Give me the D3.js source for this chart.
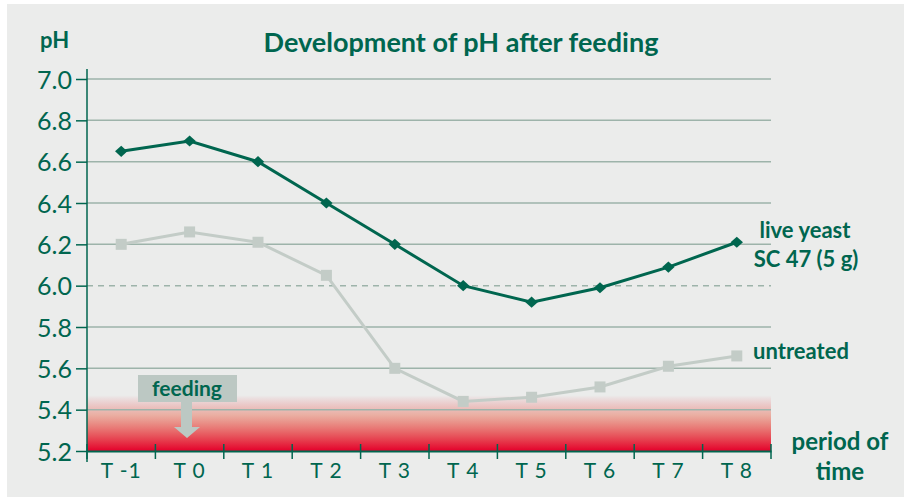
<!DOCTYPE html>
<html>
<head>
<meta charset="utf-8">
<script src="https://d3js.org/d3.v7.min.js"></script>
<style>
body { margin: 0; background: #ffffff; }
svg { display: block; }
</style>
</head>
<body>
<svg id="chart" width="904" height="497"></svg>
<script>
var periods = ['T -1', 'T 0', 'T 1', 'T 2', 'T 3', 'T 4', 'T 5', 'T 6', 'T 7', 'T 8']
var liveYeast = [6.65, 6.70, 6.60, 6.40, 6.20, 6.00, 5.92, 5.99, 6.09, 6.21]
var untreated = [6.20, 6.26, 6.21, 6.05, 5.60, 5.44, 5.46, 5.51, 5.61, 5.66]
var yTicks = [5.2, 5.4, 5.6, 5.8, 6.0, 6.2, 6.4, 6.6, 6.8, 7.0]

var green = '#00664f'
var grey = '#c3ccc7'
var font = 'Lato, "Open Sans", sans-serif'

var svg = d3.select('#chart')

// panel background
svg.append('rect')
    .attr('x', 7).attr('y', 4)
    .attr('width', 897).attr('height', 493)
    .attr('fill', '#ebeceb')

var x = d3.scaleBand().domain(periods).range([87, 771])
var y = d3.scaleLinear().domain([5.2, 7.0]).range([451, 79])

// red acid zone
var defs = svg.append('defs')
var grad = defs.append('linearGradient')
    .attr('id', 'acid').attr('x1', 0).attr('y1', 0).attr('x2', 0).attr('y2', 1)
grad.append('stop').attr('offset', '0%').attr('stop-color', '#e8001f').attr('stop-opacity', 0)
grad.append('stop').attr('offset', '35%').attr('stop-color', '#e8401f').attr('stop-opacity', 0.35)
grad.append('stop').attr('offset', '100%').attr('stop-color', '#e4002b').attr('stop-opacity', 1)

svg.append('rect')
    .attr('x', 87).attr('y', y(5.47))
    .attr('width', 771 - 87).attr('height', y(5.2) - y(5.47))
    .attr('fill', 'url(#acid)')

// gridlines
svg.selectAll('line.grid').data(yTicks.filter(function(d){ return d > 5.2 }))
    .enter().append('line')
    .attr('class', 'grid')
    .attr('x1', 87).attr('x2', 771)
    .attr('y1', function(d){ return y(d) })
    .attr('y2', function(d){ return y(d) })
    .attr('stroke', '#9db3aa')
    .attr('stroke-width', 1.5)
    .attr('stroke-dasharray', function(d){ return Math.abs(d - 6.0) < 0.01 ? '6,5' : null })

// y axis
var yAxis = d3.axisLeft(y).tickValues(yTicks).tickFormat(d3.format('.1f')).tickSize(11).tickPadding(4)
var gy = svg.append('g').attr('transform', 'translate(87,0)').call(yAxis)
gy.select('.domain').remove()
gy.selectAll('.tick line').attr('stroke', green).attr('stroke-width', 1.5)
gy.selectAll('.tick text')
    .attr('fill', green).attr('font-family', font).attr('font-size', '25px')
    .attr('dy', '0.36em')
svg.append('line')
    .attr('x1', 87).attr('x2', 87).attr('y1', 69).attr('y2', 462)
    .attr('stroke', green).attr('stroke-width', 1.5)

// x axis
var gx = svg.append('g').attr('transform', 'translate(0,451)')
    .call(d3.axisBottom(x).tickSize(0).tickPadding(12))
gx.select('.domain').attr('stroke', green).attr('stroke-width', 2)
gx.selectAll('.tick text')
    .attr('fill', green).attr('font-family', font).attr('font-size', '21px')
    .attr('letter-spacing', '1px')
var bounds = periods.map(function(d){ return x(d) }).concat([771])
gx.selectAll('line.sep').data(bounds).enter().append('line')
    .attr('class', 'sep')
    .attr('x1', function(d){ return d }).attr('x2', function(d){ return d })
    .attr('y1', -7).attr('y2', 8)
    .attr('stroke', green).attr('stroke-width', 1.5)

var cx = function(d, i){ return x(periods[i]) + x.bandwidth() / 2 }

// untreated series
var lineUntreated = d3.line().x(function(d, i){ return cx(d, i) }).y(function(d){ return y(d) })
svg.append('path').datum(untreated)
    .attr('d', lineUntreated)
    .attr('fill', 'none').attr('stroke', grey).attr('stroke-width', 3)
svg.selectAll('rect.sq').data(untreated).enter().append('rect')
    .attr('class', 'sq')
    .attr('x', function(d, i){ return cx(d, i) - 5.5 })
    .attr('y', function(d){ return y(d) - 5.5 })
    .attr('width', 11).attr('height', 11)
    .attr('fill', grey)

// live yeast series
svg.append('path').datum(liveYeast)
    .attr('d', lineUntreated)
    .attr('fill', 'none').attr('stroke', green).attr('stroke-width', 3)
svg.selectAll('path.dia').data(liveYeast).enter().append('path')
    .attr('class', 'dia')
    .attr('d', d3.symbol().type(d3.symbolDiamond2).size(80))
    .attr('transform', function(d, i){ return 'translate(' + cx(d, i) + ',' + y(d) + ') scale(1.1,1)' })
    .attr('fill', green)

// feeding marker
svg.append('rect')
    .attr('x', 138).attr('y', 375).attr('width', 99).attr('height', 27)
    .attr('fill', '#bcc8c3')
svg.append('path')
    .attr('d', 'M181,402 L192,402 L192,427 L200,427 L187,438 L174,427 L181,427 Z')
    .attr('fill', '#bcc8c3')
svg.append('text')
    .attr('x', 187).attr('y', 396)
    .attr('text-anchor', 'middle')
    .attr('font-family', font).attr('font-weight', 'bold').attr('font-size', '21px')
    .attr('fill', green)
    .text('feeding')

// text labels
var labels = [
    {t: 'pH', x: 40, y: 48, a: 'start', s: 22},
    {t: 'Development of pH after feeding', x: 461, y: 52, a: 'middle', s: 27},
    {t: 'live yeast', x: 805, y: 238, a: 'middle', s: 22},
    {t: 'SC 47 (5 g)', x: 806, y: 267, a: 'middle', s: 22},
    {t: 'untreated', x: 801, y: 359, a: 'middle', s: 22},
    {t: 'period of', x: 840, y: 450, a: 'middle', s: 24},
    {t: 'time', x: 840, y: 480, a: 'middle', s: 24}
]
svg.selectAll('text.lbl').data(labels).enter().append('text')
    .attr('class', 'lbl')
    .attr('x', function(d){ return d.x })
    .attr('y', function(d){ return d.y })
    .attr('text-anchor', function(d){ return d.a })
    .attr('font-family', font).attr('font-weight', 'bold')
    .attr('font-size', function(d){ return d.s + 'px' })
    .attr('fill', green)
    .text(function(d){ return d.t })
</script>
</body>
</html>
